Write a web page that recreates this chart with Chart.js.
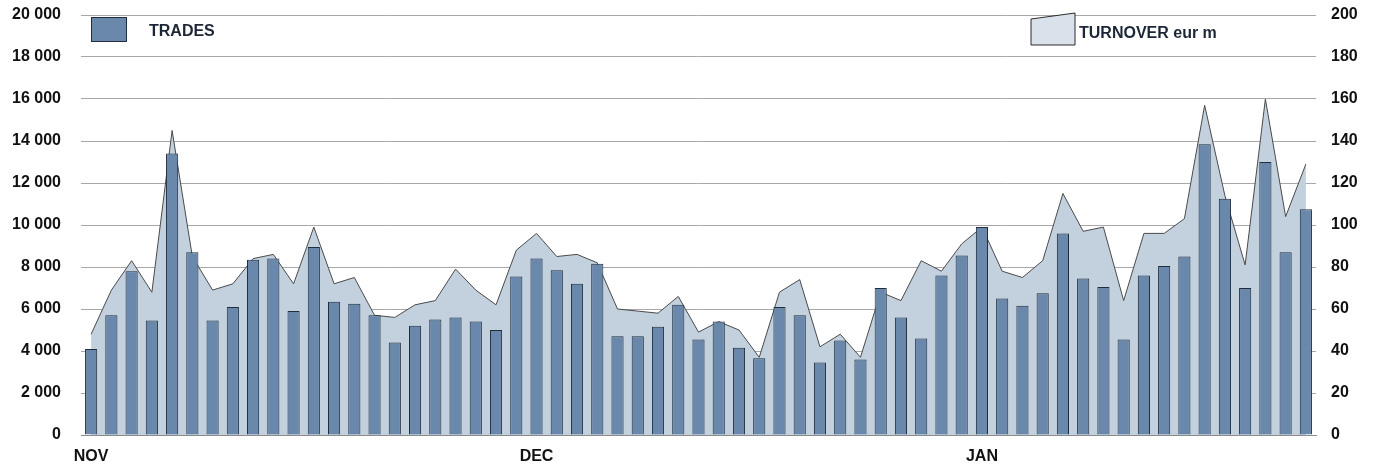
<!DOCTYPE html>
<html>
<head>
<meta charset="utf-8">
<script src="https://cdn.jsdelivr.net/npm/chart.js@4/dist/chart.umd.min.js"></script>
<style>
  body { margin: 0; background: #fff; }
  #wrap { position: relative; width: 1374px; height: 464px; }
  .legend-text { position: absolute; font: bold 16px 'Liberation Sans', Arial, sans-serif; color: #1c2636; line-height: 16px; }
</style>
</head>
<body>
<div id="wrap">
  <canvas id="tradesChart"></canvas>
  <div style="position:absolute;left:91px;top:17px;width:34px;height:23px;background:#6a88ab;border:1px solid #1f2d3d;"></div>
  <div class="legend-text" style="left:149px;top:23px;">TRADES</div>
  <svg style="position:absolute;left:1030px;top:12px;" width="47" height="35">
    <polygon points="1,7 45,1 45,33 1,33" fill="#d9e1ea" stroke="#2b2b2b" stroke-width="1"/>
  </svg>
  <div class="legend-text" style="left:1079px;top:25px;">TURNOVER eur m</div>
</div>
<script>
// daily trades (count) and turnover (eur m), NOV - JAN
const trades = [4100, 5700, 7800, 5450, 13400, 8700, 5450, 6100, 8350, 8400,
                5900, 8950, 6350, 6250, 5700, 4400, 5200, 5500, 5600, 5400,
                5000, 7550, 8400, 7850, 7200, 8150, 4700, 4700, 5150, 6200,
                4550, 5400, 4150, 3650, 6100, 5700, 3450, 4500, 3600, 7000,
                5600, 4600, 7600, 8550, 9900, 6500, 6150, 6750, 9600, 7450,
                7050, 4550, 7600, 8050, 8500, 13850, 11250, 7000, 13000, 8700, 10750];
const turnover = [48, 69, 83, 68, 145, 85, 69, 72, 84, 86,
                  72, 99, 72, 75, 57, 56, 62, 64, 79, 69,
                  62, 88, 96, 85, 86, 82, 60, 59, 58, 66,
                  49, 54, 50, 37, 68, 74, 42, 48, 37, 68,
                  64, 83, 78, 91, 99, 78, 75, 83, 115, 97,
                  99, 64, 96, 96, 103, 157, 114, 81, 160, 104, 129];
const monthNames = ['NOV', 'DEC', 'JAN'];
const monthStarts = [0, 22, 44];

const labels = trades.map((v, i) => {
    const m = monthStarts.indexOf(i);
    return m >= 0 ? monthNames[m] : '';
});

const font = { family: "'Liberation Sans', Arial, sans-serif", size: 16, weight: 'bold' };

function spaced(v) {
    return v.toString().replace(/\B(?=(\d{3})+(?!\d))/g, ' ');
}

// fixed axis boxes so the plot area lands where the original has it
function fitY(width) {
    return s => {
        s.width = width;
        s.paddingTop = 0;
        s.paddingBottom = 0;
    };
}

const ctx = document.getElementById('tradesChart').getContext('2d');
new Chart(ctx, {
    data: {
        labels: labels,
        datasets: [{
            type: 'bar',
            label: 'TRADES',
            data: trades,
            backgroundColor: '#6a88ab',
            borderColor: '#1f2d3d',
            borderWidth: 1,
            barPercentage: 0.6,
            categoryPercentage: 1,
            yAxisID: 'y',
            order: 1
        }, {
            type: 'line',
            label: 'TURNOVER eur m',
            data: turnover,
            borderColor: '#4a4a4a',
            borderWidth: 1,
            backgroundColor: '#c3d0dd',
            fill: 'origin',
            pointRadius: 0,
            tension: 0,
            yAxisID: 'y2',
            order: 2
        }]
    },
    options: {
        responsive: true,
        maintainAspectRatio: false,
        animation: false,
        layout: { padding: { top: 15, left: 0, right: 0, bottom: 0 } },
        plugins: { legend: { display: false }, tooltip: { enabled: false } },
        scales: {
            x: {
                offset: true,
                grid: { display: false },
                border: { display: true, color: '#8c8c8c' },
                ticks: { autoSkip: false, maxRotation: 0, color: '#111', font: font, padding: 4 },
                afterFit: s => { s.height = 29; s.paddingLeft = 0; s.paddingRight = 0; }
            },
            y: {
                position: 'left',
                min: 0, max: 20000,
                grid: { color: '#a8a8a8', drawTicks: false },
                border: { display: false },
                ticks: { stepSize: 2000, color: '#111', font: font, padding: 20, callback: v => spaced(v) },
                afterFit: fitY(81)
            },
            y2: {
                position: 'right',
                min: 0, max: 200,
                grid: { display: false, drawTicks: false },
                border: { display: false },
                ticks: { stepSize: 20, color: '#111', font: font, padding: 15 },
                afterFit: fitY(58)
            }
        }
    }
});
</script>
</body>
</html>
